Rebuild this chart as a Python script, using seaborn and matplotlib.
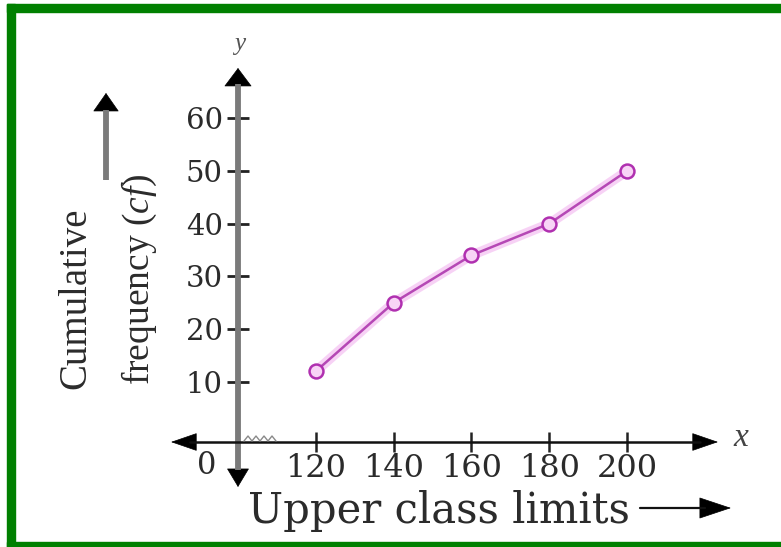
import numpy as np
import pandas as pd
import matplotlib
matplotlib.use("Agg")
import matplotlib.pyplot as plt
import seaborn as sns
from matplotlib.patches import Rectangle
from matplotlib.lines import Line2D

# ---------------- data ----------------
upper_class_limits = [120, 140, 160, 180, 200]
cumulative_frequency = [12, 25, 34, 40, 50]
x_ticks = [120, 140, 160, 180, 200]
y_ticks = [10, 20, 30, 40, 50, 60]
origin_label = "0"
x_label = "Upper class limits"
y_label_line1 = "Cumulative"
y_label_line2 = "frequency ($\\mathit{cf}$)"

sns.set_theme(style="white")
plt.rcParams["font.family"] = ["DejaVu Serif"]
plt.rcParams["mathtext.fontset"] = "custom"
plt.rcParams["mathtext.it"] = "Liberation Serif:italic"
plt.rcParams["mathtext.rm"] = "Liberation Serif"

W, H = 781, 547
fig = plt.figure(figsize=(W / 100, H / 100), dpi=100)
fig.patch.set_facecolor("white")


def fp(x, y):
    """pixel (from top-left) -> figure fraction"""
    return (x / W, 1 - y / H)


TXT = "#2b2b2b"
GRAY = "#7a7a7a"

# ---------------- axes box ----------------
ax_l, ax_r, ax_t, ax_b = 238, 718, 68, 442
ax = fig.add_axes([ax_l / W, 1 - ax_b / H, (ax_r - ax_l) / W, (ax_b - ax_t) / H])
ax.set_facecolor("none")
px_x = 3.89      # pixels per x unit
px_y = 5.27      # pixels per y unit
y0_px = 434.5    # pixel row of y = 0
x_at_axis = 100  # broken axis: the y axis sits at x = 100
ax.set_xlim(x_at_axis, x_at_axis + (ax_r - ax_l) / px_x)
ax.set_ylim(-(ax_b - y0_px) / px_y, (y0_px - ax_t) / px_y)

df = pd.DataFrame({"limit": upper_class_limits, "cf": cumulative_frequency})
# soft glow under the line
sns.lineplot(data=df, x="limit", y="cf", ax=ax, color="#f4c0f2",
             linewidth=7, alpha=0.7, legend=False)
sns.lineplot(data=df, x="limit", y="cf", ax=ax, color="#b548b5",
             linewidth=1.8, marker="o", markersize=10,
             markerfacecolor="#f8d4f6", markeredgecolor="#b030b0",
             markeredgewidth=1.8, legend=False)

ax.set_xticks(x_ticks)
ax.set_yticks(y_ticks)
ax.set_xlabel("")
ax.set_ylabel("")
for s in ax.spines.values():
    s.set_visible(False)
ax.tick_params(axis="x", bottom=True, direction="inout", length=14, width=1.8,
               color="#222222", pad=1, labelsize=23, labelcolor=TXT)
ax.tick_params(axis="y", left=True, direction="inout", length=16, width=2,
               color="#222222", pad=3, labelsize=21, labelcolor=TXT)
ax.grid(False)

# ---------------- axis lines with arrowheads ----------------
fig.add_artist(Line2D([fp(238, 470)[0], fp(238, 84)[0]],
                      [fp(238, 470)[1], fp(238, 84)[1]],
                      transform=fig.transFigure, color=GRAY, lw=4.2,
                      solid_capstyle="butt"))


def head(tip, base, ms, hl, hw, color="black"):
    ax.annotate("", xy=fp(*tip), xycoords="figure fraction",
                xytext=fp(*base), textcoords="figure fraction",
                arrowprops=dict(arrowstyle=f"-|>,head_length={hl},head_width={hw}",
                                color=color, lw=0.5, shrinkA=0, shrinkB=0,
                                mutation_scale=ms))


head((238, 68), (238, 86), 12.5, 1.0, 0.75)
head((238, 487), (238, 469), 12.5, 1.0, 0.6)

fig.add_artist(Line2D([fp(190, 442)[0], fp(700, 442)[0]],
                      [fp(190, 442)[1], fp(700, 442)[1]],
                      transform=fig.transFigure, color="#111111", lw=1.8))
head((718, 442), (694, 442), 12, 1.45, 0.5)
head((171, 442), (196, 442), 12, 1.45, 0.5)

# axis-break squiggle
zz_x = np.linspace(244, 276, 9)
zz_y = 441 + np.array([0, -5, 0, -5, 0, -5, 0, -5, 0])
fig.add_artist(Line2D(zz_x / W, 1 - zz_y / H, transform=fig.transFigure,
                      color="#8a8a8a", lw=1.0))

# axis letters
fig.text(*fp(240, 44), "y", fontsize=18, style="italic", color="#555555",
         ha="center", va="center", family=["Liberation Serif"])
fig.text(*fp(741, 438), "x", fontsize=24, style="italic", color="#444444",
         ha="center", va="center", family=["Liberation Serif"])
fig.text(*fp(207, 466), origin_label, fontsize=22, color=TXT,
         ha="center", va="center")

# ---------------- axis titles ----------------
fig.text(*fp(76, 298), y_label_line1, rotation=90, fontsize=28, color=TXT,
         ha="center", va="center", family=["Liberation Serif"])
fig.text(*fp(139, 279), y_label_line2, rotation=90, fontsize=27, color=TXT,
         ha="center", va="center", family=["Liberation Serif"])

fig.add_artist(Line2D([fp(106, 180)[0], fp(106, 110)[0]],
                      [fp(106, 180)[1], fp(106, 110)[1]],
                      transform=fig.transFigure, color=GRAY, lw=4.2,
                      solid_capstyle="butt"))
head((106, 93), (106, 111), 12.5, 1.0, 0.7)

fig.text(*fp(248, 511), x_label, fontsize=30, color=TXT, ha="left", va="center")
fig.add_artist(Line2D([fp(640, 508)[0], fp(705, 508)[0]],
                      [fp(640, 508)[1], fp(705, 508)[1]],
                      transform=fig.transFigure, color="#111111", lw=1.6))
head((731, 508), (701, 508), 12, 1.8, 0.6)

# ---------------- green frame ----------------
green = "#008000"
for (x0, y0, x1, y1) in [(7, 4, 781, 12), (7, 4, 15, 547), (7, 542, 781, 547)]:
    fig.patches.append(Rectangle(fp(x0, y1), (x1 - x0) / W, (y1 - y0) / H,
                                 transform=fig.transFigure, color=green,
                                 zorder=10))

fig.savefig("out.png", dpi=100)
